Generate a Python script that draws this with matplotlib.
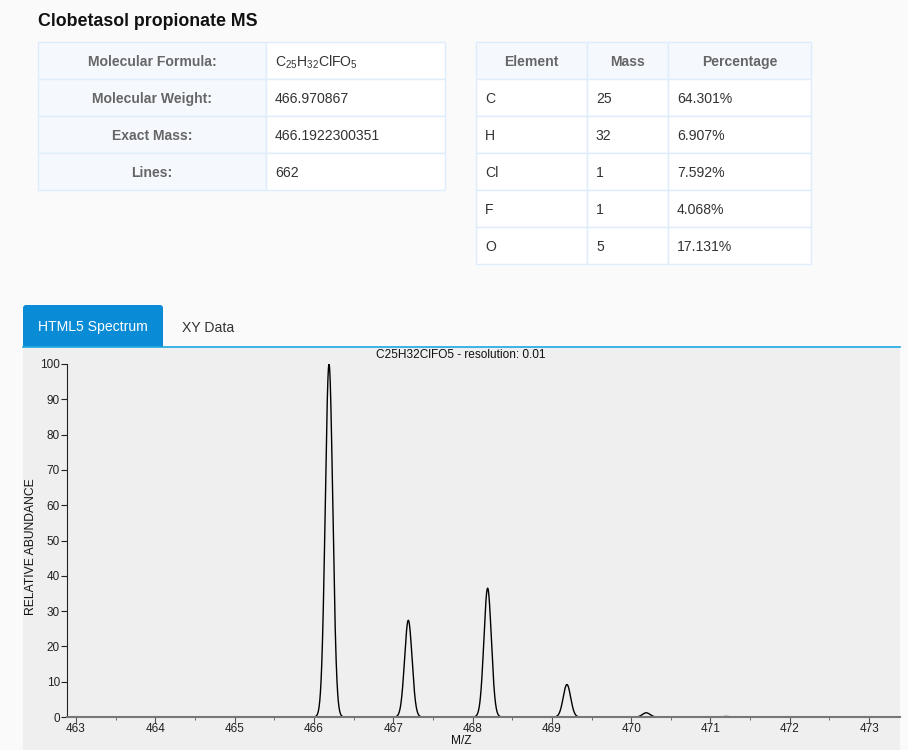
import matplotlib.pyplot as plt
import numpy as np
from matplotlib.patches import Rectangle, FancyBboxPatch

# data
title = "Clobetasol propionate MS"
info_labels = ["Molecular Formula:", "Molecular Weight:", "Exact Mass:", "Lines:"]
info_values = [r"$\mathregular{C_{25}H_{32}ClFO_{5}}$", "466.970867", "466.1922300351", "662"]
elem_header = ["Element", "Mass", "Percentage"]
elements = ["C", "H", "Cl", "F", "O"]
elem_mass = ["25", "32", "1", "1", "5"]
elem_pct = ["64.301%", "6.907%", "7.592%", "4.068%", "17.131%"]

peak_mz = [466.19, 467.19, 468.19, 469.19, 470.19, 471.19]
peak_abund = [100.0, 27.4, 36.5, 9.2, 1.2, 0.15]
peak_sigma = 0.047
mz_start, mz_end = 462.9, 472.4

plt.rcParams['font.family'] = ['Liberation Sans', 'DejaVu Sans']

fig = plt.figure(figsize=(9.08, 7.5), dpi=100)
fig.patch.set_facecolor('#fafafa')

# page overlay in pixel coordinates
page = fig.add_axes([0, 0, 1, 1], zorder=0)
page.set_xlim(0, 908)
page.set_ylim(750, 0)
page.axis('off')

page.text(38, 21, title, fontsize=12.8, fontweight='bold', va='center', ha='left', color='#111111')

border = '#dfecfb'
head_bg = '#f5f9fe'
row_h = 37
fs = 10.1
va = 'center_baseline'

# left info table
lx0, lsplit, lx1, ty = 38, 266, 445, 42
for i, (lab, val) in enumerate(zip(info_labels, info_values)):
    y = ty + i * row_h
    page.add_patch(Rectangle((lx0, y), lsplit - lx0, row_h, facecolor=head_bg, edgecolor=border, lw=1))
    page.add_patch(Rectangle((lsplit, y), lx1 - lsplit, row_h, facecolor='white', edgecolor=border, lw=1))
    page.text((lx0 + lsplit) / 2, y + row_h / 2, lab, ha='center', va=va,
              fontsize=fs, fontweight='bold', color='#666666')
    page.text(lsplit + 9, y + row_h / 2, val, ha='left', va=va, fontsize=fs, color='#333333')

# right element table
cols = [476, 587, 668, 811]
for j, h in enumerate(elem_header):
    page.add_patch(Rectangle((cols[j], ty), cols[j + 1] - cols[j], row_h,
                             facecolor=head_bg, edgecolor=border, lw=1))
    page.text((cols[j] + cols[j + 1]) / 2, ty + row_h / 2, h, ha='center', va=va,
              fontsize=fs, fontweight='bold', color='#666666')
for i, row in enumerate(zip(elements, elem_mass, elem_pct)):
    y = ty + (i + 1) * row_h
    for j, v in enumerate(row):
        page.add_patch(Rectangle((cols[j], y), cols[j + 1] - cols[j], row_h,
                                 facecolor='white', edgecolor=border, lw=1))
        page.text(cols[j] + 9, y + row_h / 2, v, ha='left', va=va, fontsize=fs, color='#333333')

# tabs
page.add_patch(FancyBboxPatch((23, 305), 140, 46, boxstyle="round,pad=0,rounding_size=3",
                              facecolor='#0a8bd6', edgecolor='none'))
page.text(93, 326, "HTML5 Spectrum", ha='center', va=va, fontsize=fs, color='white')
page.text(208, 326, "XY Data", ha='center', va=va, fontsize=fs, color='#333333')
page.add_patch(Rectangle((23, 347), 877, 403, facecolor='#efefef', edgecolor='none'))
page.plot([23, 900], [346.5, 346.5], color='#1ea7e1', lw=1.2)

# spectrum axes
left, right, top, bottom = 67, 900, 364, 717
ax = fig.add_axes([left / 908, (750 - bottom) / 750, (right - left) / 908, (bottom - top) / 750], zorder=1)
ax.patch.set_alpha(0)

mz = np.arange(mz_start, mz_end, 0.002)
intensity = np.zeros_like(mz)
for c, a in zip(peak_mz, peak_abund):
    intensity += a * np.exp(-0.5 * ((mz - c) / peak_sigma) ** 2)
ax.plot(mz, intensity, color='black', lw=1)

ax.set_xlim(462.886, 473.39)
ax.set_ylim(0, 100)
ax.set_xticks(range(463, 474))
ax.set_xticks(np.arange(463.5, 473.5, 1.0), minor=True)
ax.set_yticks(range(0, 101, 10))
for s in ['top', 'right']:
    ax.spines[s].set_visible(False)
ax.spines['left'].set_color('#222222')
ax.spines['bottom'].set_color('#777777')
ax.spines['bottom'].set_linewidth(1.5)
ax.tick_params(axis='both', labelsize=8.5, colors='#222222', length=4, pad=1)
ax.tick_params(axis='x', which='minor', length=2, color='#555555')
ax.tick_params(axis='x', which='major', color='#555555', pad=0)

page.text(461, 355, "C25H32ClFO5 - resolution: 0.01", ha='center', va='center', fontsize=8.6, color='#111111')
page.text(31, 547, "RELATIVE ABUNDANCE", ha='center', va='center', rotation=90, fontsize=8.7, color='#111111')
page.text(461, 741, "M/Z", ha='center', va='center', fontsize=8.6, color='#111111')

fig.savefig('out.png', dpi=100, facecolor=fig.get_facecolor())
